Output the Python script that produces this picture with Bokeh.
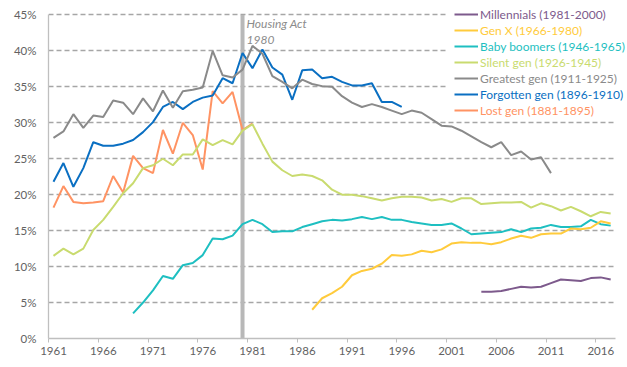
from bokeh.plotting import figure
from bokeh.models import (Range1d, LinearAxis, FixedTicker, PrintfTickFormatter,
                          CustomJSTickFormatter, Legend, LegendItem, Label,
                          ColumnDataSource, Grid)
from bokeh.embed import file_html
from bokeh.resources import INLINE

FONT = "Lato"

# ---------------- data (percent of age group, by year) ----------------
millennials_start = 2004
millennials = [6.5, 6.5, 6.6, 6.9, 7.2, 7.1, 7.2, 7.7, 8.2, 8.1, 8.0, 8.4, 8.5, 8.2]

genx_start = 1987
genx = [4.0, 5.6, 6.3, 7.2,
        8.8, 9.4, 9.7, 10.4, 11.6, 11.5, 11.7, 12.2, 12.0, 12.4,
        13.2, 13.4, 13.3, 13.3, 13.1, 13.4, 13.9, 14.3, 14.0, 14.5,
        14.6, 14.6, 15.3, 15.2, 15.4, 16.3, 16.0]

boomers_start = 1969
boomers = [3.5, 5.0, 6.7, 8.7, 8.3, 10.2, 10.5, 11.6, 13.9, 13.8, 14.3, 15.9,
           16.5, 15.9, 14.8, 14.9, 14.9, 15.5, 15.9, 16.3, 16.5, 16.4,
           16.6, 16.9, 16.6, 16.9, 16.5, 16.5, 16.2, 16.0, 15.8, 15.8,
           16.0, 15.3, 14.5, 14.6, 14.7, 14.8, 15.2, 14.8, 15.3, 15.4,
           15.8, 15.5, 15.5, 15.6, 16.5, 15.9, 15.7]

silent_start = 1961
silent = [11.5, 12.5, 11.7, 12.5, 15.1, 16.5, 18.3, 20.2, 21.6, 23.7,
          24.1, 25.0, 24.1, 25.6, 25.6, 27.7, 26.9, 27.6, 27.0, 28.9,
          29.8, 27.1, 24.6, 23.4, 22.6, 22.8, 22.6, 22.0, 20.7, 20.0,
          20.0, 19.8, 19.5, 19.2, 19.5, 19.7, 19.7, 19.6, 19.2, 19.4,
          19.0, 19.5, 19.5, 18.7, 18.8, 18.9, 18.9, 19.0, 18.2, 18.8,
          18.4, 17.8, 18.3, 17.7, 17.0, 17.6, 17.4]

greatest_start = 1961
greatest = [27.9, 28.8, 31.2, 29.3, 31.0, 30.8, 33.1, 32.8, 31.2, 33.4,
            31.6, 34.5, 32.1, 34.4, 34.6, 34.9, 40.0, 36.6, 36.3, 37.4,
            40.7, 39.6, 36.5, 35.7, 34.8, 36.0, 35.4, 35.1, 35.0, 33.7,
            32.8, 32.2, 32.6, 32.2, 31.7, 31.2, 31.7, 31.4, 30.5, 29.6,
            29.5, 28.9, 28.1, 27.3, 26.6, 27.3, 25.5, 26.0, 24.9, 25.2,
            23.0]

forgotten_start = 1961
forgotten = [21.8, 24.4, 21.1, 23.7, 27.3, 26.8, 26.8, 27.1, 27.6, 28.7,
             30.1, 32.2, 32.9, 31.9, 32.9, 33.5, 33.8, 36.2, 35.5, 39.7,
             37.6, 40.2, 37.7, 36.7, 33.2, 37.3, 37.4, 36.2, 36.4, 35.7,
             35.2, 35.2, 35.5, 32.9, 32.9, 32.2]

lost_start = 1961
lost = [18.2, 21.2, 19.0, 18.8, 18.9, 19.1, 22.6, 20.3, 25.4, 23.7,
        23.0, 29.0, 25.7, 30.0, 28.3, 23.5, 34.4, 32.7, 34.3, 29.0,
        29.9]

series_names = ["Millennials (1981-2000)", "Gen X (1966-1980)",
                "Baby boomers (1946-1965)", "Silent gen (1926-1945)",
                "Greatest gen (1911-1925)", "Forgotten gen (1896-1910)",
                "Lost gen (1881-1895)"]
series_colors = ["#7D5A8C", "#FFCB3C", "#1EBFC1", "#C9DB6F",
                 "#8A8A8A", "#0A6FC2", "#FF9363"]
series_data = [(millennials_start, millennials), (genx_start, genx),
               (boomers_start, boomers), (silent_start, silent),
               (greatest_start, greatest), (forgotten_start, forgotten),
               (lost_start, lost)]

x_label_years = [1961, 1966, 1971, 1976, 1981, 1986, 1991, 1996, 2001, 2006, 2011, 2016]
y_ticks = [0, 5, 10, 15, 20, 25, 30, 35, 40, 45]
first_year, last_year = 1961, 2017
y_max = 45
housing_act_year = 1980
housing_act_text = "Housing Act\n1980"

# ---------------- figure ----------------
# The frame is extended up/right (beyond the axis bounds) so that the legend,
# which overlaps the top-right corner, is not clipped.
px_per_year = 9.95
px_per_pct = 7.19
frame_w, frame_h = 579, 338
x_start = first_year - 0.5
x_end = x_start + frame_w / px_per_year
y_end = frame_h / px_per_pct
x_bounds = (first_year - 0.5, last_year + 0.5)

p = figure(frame_width=frame_w, frame_height=frame_h,
           min_border_left=48, min_border_top=0, min_border_right=0, min_border_bottom=0,
           x_range=Range1d(x_start, x_end), y_range=Range1d(0, y_end),
           x_axis_type=None, y_axis_type=None,
           output_backend="svg", toolbar_location=None)
p.outline_line_color = None
p.background_fill_color = "white"
p.border_fill_color = "white"

label_color = "#626262"
axis_color = "#BFBFBF"

# y axis
yaxis = LinearAxis(ticker=FixedTicker(ticks=y_ticks),
                   formatter=PrintfTickFormatter(format="%d%%"), bounds=(0, y_max))
yaxis.axis_line_color = axis_color
yaxis.axis_line_width = 1.3
yaxis.major_tick_out = 0
yaxis.major_tick_in = 0
yaxis.minor_tick_out = 0
yaxis.minor_tick_in = 0
yaxis.major_label_standoff = 12
yaxis.major_label_text_font = FONT
yaxis.major_label_text_font_size = "11.5px"
yaxis.major_label_text_color = label_color
p.add_layout(yaxis, "left")

grid = Grid(dimension=1, ticker=FixedTicker(ticks=y_ticks[1:]), cross_bounds=x_bounds)
grid.grid_line_color = "#A6A6A6"
grid.grid_line_width = 1.3
grid.grid_line_dash = "5 3"
p.add_layout(grid, "center")

# x axis: tick marks at category boundaries
band_edges = [y - 0.5 for y in x_label_years]
xtick_axis = LinearAxis(ticker=FixedTicker(ticks=band_edges),
                        formatter=CustomJSTickFormatter(code="return ''"), bounds=x_bounds)
xtick_axis.axis_line_color = axis_color
xtick_axis.axis_line_width = 1.3
xtick_axis.major_tick_line_color = axis_color
xtick_axis.major_tick_out = 4
xtick_axis.major_tick_in = 0
xtick_axis.minor_tick_out = 0
xtick_axis.minor_tick_in = 0
xtick_axis.major_label_standoff = 0
p.add_layout(xtick_axis, "below")

# x axis: labels at category centres
xlab_axis = LinearAxis(ticker=FixedTicker(ticks=x_label_years),
                       formatter=PrintfTickFormatter(format="%d"), bounds=x_bounds)
xlab_axis.axis_line_alpha = 0
xlab_axis.major_tick_out = 0
xlab_axis.major_tick_in = 0
xlab_axis.minor_tick_out = 0
xlab_axis.minor_tick_in = 0
xlab_axis.major_label_standoff = 4
xlab_axis.major_label_text_font = FONT
xlab_axis.major_label_text_font_size = "11.5px"
xlab_axis.major_label_text_color = label_color
p.add_layout(xlab_axis, "below")

# Housing Act marker (bar from 0% to 45%)
p.segment(x0=[housing_act_year], y0=[0], x1=[housing_act_year], y1=[y_max],
          line_color="#B8B8B8", line_width=4, line_cap="butt")
p.add_layout(Label(x=housing_act_year, y=y_max, text=housing_act_text,
                   x_offset=4, y_offset=-1, text_baseline="top", text_align="left",
                   text_font=FONT, text_font_style="italic", text_font_size="12px",
                   text_line_height=1.1, text_color="#8C8C8C"))

# series lines (drawn oldest first)
renderers = {}
for name, color, (start, vals) in reversed(list(zip(series_names, series_colors, series_data))):
    src = ColumnDataSource(dict(year=list(range(start, start + len(vals))), value=vals))
    renderers[name] = p.line("year", "value", source=src, line_color=color, line_width=2)

# legend: white backing box, then one coloured entry per series
dummy = p.line(x=[], y=[], line_alpha=0)
bg = Legend(items=[LegendItem(label=" ", renderers=[dummy])], location=(399, 220),
            padding=0, margin=0, spacing=0, glyph_width=200, glyph_height=112,
            label_height=112, label_text_alpha=0, background_fill_color="white",
            background_fill_alpha=1, border_line_alpha=0)
p.add_layout(bg, "center")

for i, (name, color) in enumerate(zip(series_names, series_colors)):
    lg = Legend(items=[LegendItem(label=name, renderers=[renderers[name]])],
                location=(406, 316 - 16 * i), padding=0, margin=0, spacing=0,
                glyph_width=24, glyph_height=16, label_height=16, label_standoff=2,
                label_text_font=FONT, label_text_font_size="12px",
                label_text_color=color, background_fill_alpha=0, border_line_alpha=0)
    p.add_layout(lg, "center")

open("out.html", "w").write(file_html(p, INLINE))
